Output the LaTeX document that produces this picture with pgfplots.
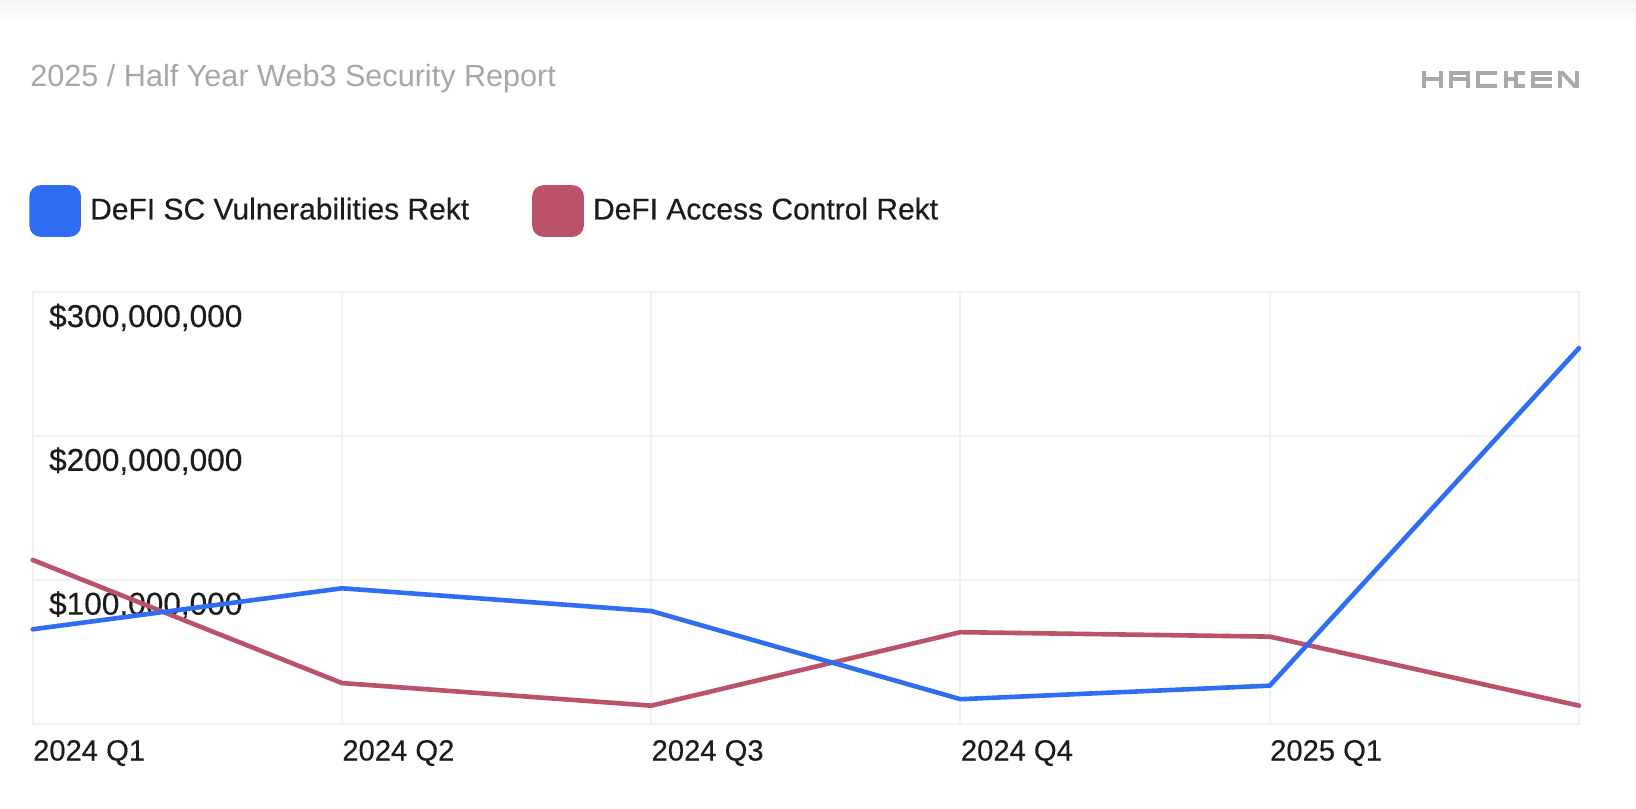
\documentclass[border=0pt]{standalone}
\usepackage{pgfplots}
\pgfplotsset{compat=1.18}
\usepackage{fontspec}
\setmainfont{Liberation Sans}
\newfontface\medfont{Liberation Sans}[FakeBold=0.35]

\definecolor{vblue}{HTML}{2F6EF2}
\definecolor{acred}{HTML}{BC5269}
\definecolor{gridgray}{HTML}{F1F1F1}
\definecolor{titlegray}{HTML}{A7A7A7}
\definecolor{logogray}{HTML}{A9A9A9}
\definecolor{ink}{HTML}{1C1C1C}

\newcommand{\labelfont}{\medfont\fontsize{15}{18}\selectfont}

% blocky wordmark strokes: letter width 10.5, height 8.5, stroke 2
\newcommand{\logoV}[1]{\fill (#1,0) rectangle ++(2,8.5);}
\newcommand{\logoH}[3]{\fill (#1,#3) rectangle (#2,#3+2);}

\begin{document}
\begin{tikzpicture}[x=1pt,y=1pt]
\useasboundingbox (0,0) rectangle (818,404);
\fill[white] (0,0) rectangle (818,404);
\shade[top color=black!4, bottom color=white] (0,392) rectangle (818,404);

\node[anchor=west, inner sep=0pt, text=titlegray, font=\fontsize{15.3}{18}\selectfont]
  at (15,364.5) {2025 / Half Year Web3 Security Report};

% HACKEN wordmark
\begin{scope}[fill=logogray]
  % H
  \begin{scope}[shift={(711,360)}]
    \logoV{0}\logoV{8.5}\logoH{0}{10.5}{3.25}
  \end{scope}
  % A
  \begin{scope}[shift={(724.6,360)}]
    \logoV{0}\logoV{8.5}\logoH{0}{10.5}{3.25}\logoH{0}{10.5}{6.5}
  \end{scope}
  % C
  \begin{scope}[shift={(738.2,360)}]
    \logoV{0}\logoH{0}{10.5}{0}\logoH{0}{10.5}{6.5}
  \end{scope}
  % K
  \begin{scope}[shift={(751.8,360)}]
    \logoV{0}\logoH{0}{6}{3.25}
    \fill (5,3.25) rectangle (7,8.5);
    \fill (5,0) rectangle (7,5.25);
    \logoH{5}{10.5}{6.5}\logoH{5}{10.5}{0}
  \end{scope}
  % E
  \begin{scope}[shift={(765.4,360)}]
    \logoV{0}\logoH{0}{10.5}{0}\logoH{0}{10.5}{3.25}\logoH{0}{10.5}{6.5}
  \end{scope}
  % N
  \begin{scope}[shift={(779,360)}]
    \logoV{0}\logoV{8.5}
    \fill (0,8.5) -- (2.6,8.5) -- (10.5,0) -- (7.9,0) -- cycle;
  \end{scope}
\end{scope}

\begin{axis}[
  at={(16.35pt,42.25pt)}, anchor=south west,
  scale only axis, width=773.15pt, height=215.75pt,
  xmin=0, xmax=5, ymin=0, ymax=300000000,
  clip=false,
  scaled y ticks=false,
  xtick={0,1,2,3,4},
  xticklabels={2024 Q1,2024 Q2,2024 Q3,2024 Q4,2025 Q1},
  ytick={100000000,200000000,300000000},
  yticklabels={{\$100,000,000},{\$200,000,000},{\$300,000,000}},
  grid=major,
  major grid style={draw=gridgray, line width=1pt},
  axis line style={draw=gridgray, line width=1pt},
  major tick length=0pt,
  tick style={draw=none},
  xticklabel style={anchor=base west, inner sep=0pt, yshift=-18.5pt,
    font=\medfont\fontsize{14.6}{18}\selectfont, text=ink},
  yticklabel style={anchor=base west, inner sep=0pt, xshift=8pt, yshift=-17.5pt,
    font=\medfont\fontsize{15.8}{18}\selectfont, text=ink},
  legend style={at={(-0.0024,1.1877)}, anchor=west, draw=none, fill=none,
    inner sep=0pt, font=\labelfont, text=ink,
    /tikz/every odd column/.append style={column sep=2.6pt},
    /tikz/every even column/.append style={column sep=29.5pt}},
  legend columns=2,
  legend cell align=left,
  reverse legend,
  legend image code/.code={\fill[#1, rounded corners=4.5pt] (0pt,-12.2pt) rectangle (23.5pt,11.3pt);},
  every axis plot/.append style={line width=2.3pt, line cap=round, mark=none},
]
% access-control losses, USD per quarter
\addplot[color=acred] coordinates {
  (0,113700000) (1,28100000) (2,12400000) (3,63500000) (4,60400000) (5,12400000)
};
\addlegendentry{DeFI Access Control Rekt}
% smart-contract vulnerability losses, USD per quarter
\addplot[color=vblue] coordinates {
  (0,65500000) (1,94000000) (2,78200000) (3,16900000) (4,26300000) (5,261000000)
};
\addlegendentry{DeFI SC Vulnerabilities Rekt}
\end{axis}
\end{tikzpicture}
\end{document}
